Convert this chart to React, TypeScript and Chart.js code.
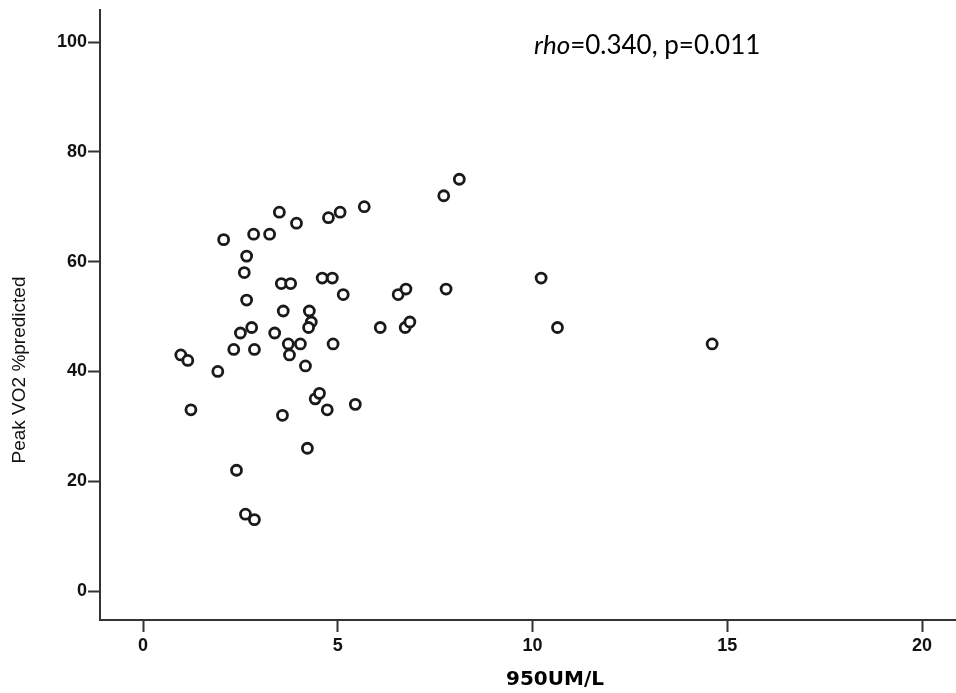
import React, { useEffect, useRef } from "react";
import { Chart, registerables } from "chart.js";

Chart.register(...registerables);

const xValues: number[] = [
  0.97, 1.15, 1.23, 1.92, 2.07, 2.33, 2.4, 2.5, 2.6, 2.66, 2.66, 2.63, 2.86, 2.79,
  2.84, 2.86, 3.25, 3.38, 3.5, 3.55, 3.6, 3.58, 3.73, 3.76, 3.79, 3.94, 4.04, 4.17,
  4.22, 4.27, 4.32, 4.25, 4.42, 4.53, 4.6, 4.73, 4.76, 4.86, 4.88, 5.06, 5.14, 5.45,
  5.68, 6.09, 6.55, 6.75, 6.73, 6.85, 7.78, 7.72, 8.12, 10.22, 10.64, 14.61,
];
const yValues: number[] = [
  43, 42, 33, 40, 64, 44, 22, 47, 58, 61, 53, 14, 13, 48,
  65, 44, 65, 47, 69, 56, 51, 32, 45, 43, 56, 67, 45, 41,
  26, 51, 49, 48, 35, 36, 57, 33, 68, 57, 45, 69, 54, 34,
  70, 48, 54, 55, 48, 49, 55, 72, 75, 57, 48, 45,
];
const xTickStep = 5;
const yTickStep = 20;
const xTitle = "950UM/L";
const yTitle = "Peak VO2 %predicted";
const annotationItalic = "rho";
const annotationRest = "=0.340, p=0.011";

const tickFont = { family: "'Liberation Sans', Arial, sans-serif", size: 18, weight: "bold" as const };

const textPlugin = {
  id: "texts",
  afterDraw(chart: any) {
    const ctx = chart.ctx as CanvasRenderingContext2D;
    ctx.save();
    ctx.fillStyle = "#000";
    // annotation
    ctx.textBaseline = "alphabetic";
    ctx.textAlign = "left";
    ctx.font = "italic 26px Lato, 'Open Sans', sans-serif";
    const ax = 534;
    const ay = 54;
    ctx.fillText(annotationItalic, ax, ay);
    const w = ctx.measureText(annotationItalic).width;
    ctx.font = "26px Lato, 'Open Sans', sans-serif";
    ctx.fillText(annotationRest, ax + w, ay);
    // x title
    ctx.font = "bold 20px 'DejaVu Sans', Verdana, sans-serif";
    ctx.textAlign = "center";
    ctx.textBaseline = "middle";
    ctx.fillText(xTitle, 555, 680);
    // y title
    ctx.translate(20, 370);
    ctx.rotate(-Math.PI / 2);
    ctx.font = "19px 'Liberation Sans', Arial, sans-serif";
    ctx.fillStyle = "#111";
    ctx.fillText(yTitle, 0, 0);
    ctx.restore();
  },
};

export default function App() {
  const ref = useRef<HTMLCanvasElement | null>(null);
  useEffect(() => {
    if (!ref.current) return;
    const data = xValues.map((x, i) => ({ x, y: yValues[i] }));
    const zeroPad = (s: any) => {
      s.paddingLeft = 0;
      s.paddingRight = 0;
      s.paddingTop = 0;
      s.paddingBottom = 0;
    };
    const chart = new Chart(ref.current, {
      type: "scatter",
      data: {
        datasets: [
          {
            data,
            pointRadius: 5,
            pointHoverRadius: 5,
            pointBorderWidth: 2.8,
            pointBorderColor: "#1a1a1a",
            pointBackgroundColor: "#ffffff",
          },
        ],
      },
      options: {
        responsive: false,
        animation: false,
        events: [],
        layout: { autoPadding: false, padding: { top: 10, right: 0, left: 0, bottom: 0 } },
        plugins: { legend: { display: false }, tooltip: { enabled: false } },
        scales: {
          x: {
            type: "linear",
            min: -1.104,
            max: 20.87,
            ticks: { stepSize: xTickStep, includeBounds: false, font: tickFont, color: "#111", padding: 3 },
            grid: { drawOnChartArea: false, drawTicks: true, tickLength: 12, tickColor: "#333", tickWidth: 2 },
            border: { display: true, color: "#333", width: 2 },
            afterFit: (s: any) => {
              s.height = 73;
              zeroPad(s);
            },
          },
          y: {
            type: "linear",
            min: -5.28,
            max: 105.83,
            ticks: { stepSize: yTickStep, includeBounds: false, font: tickFont, color: "#111", padding: 1 },
            grid: { drawOnChartArea: false, drawTicks: true, tickLength: 12, tickColor: "#333", tickWidth: 2 },
            border: { display: true, color: "#333", width: 2 },
            afterFit: (s: any) => {
              s.width = 100;
              zeroPad(s);
            },
          },
        },
      } as any,
      plugins: [textPlugin],
    });
    return () => chart.destroy();
  }, []);
  return (
    <div style={{ position: "absolute", left: 0, top: 0, width: 956, height: 693, background: "#fff" }}>
      <canvas ref={ref} width={956} height={693} style={{ width: 956, height: 693, display: "block" }} />
    </div>
  );
}
